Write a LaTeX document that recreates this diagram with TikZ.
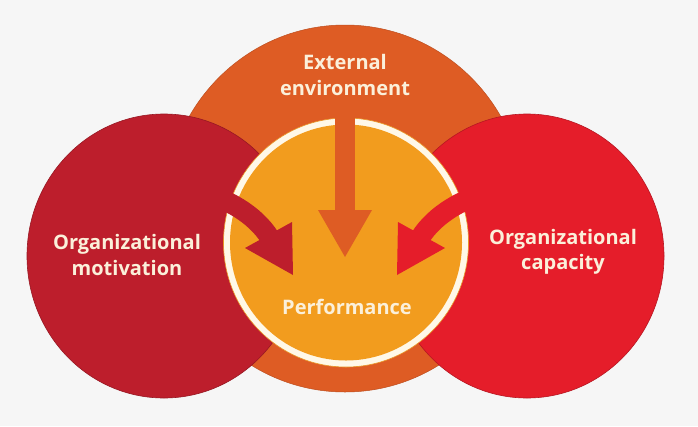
\documentclass[tikz,border=0pt]{standalone}
\usepackage{fontspec}
\setmainfont{Open Sans}
\usetikzlibrary{shapes.geometric}
\definecolor{bgc}{HTML}{F6F6F6}
\definecolor{extc}{HTML}{DE5C24}
\definecolor{motc}{HTML}{BD1E2C}
\definecolor{capc}{HTML}{E51D2A}
\definecolor{perfc}{HTML}{F29C1E}
\definecolor{ringc}{HTML}{FFF8E8}
\definecolor{txtc}{HTML}{FBF0DA}
\tikzset{
  blob/.style={ellipse, inner sep=0pt, outer sep=0pt},
  label text/.style={text=txtc, font=\bfseries\fontsize{20}{25.5}\selectfont, align=center},
  shaft/.style={line width=20pt, line cap=butt},
}
\begin{document}
\begin{tikzpicture}[x=1pt,y=-1pt]
\fill[bgc] (0,0) rectangle (698,426);
\useasboundingbox (0,0) rectangle (698,426);
% circles
\node[blob, fill=extc, draw=extc!85!black, line width=0.5pt, minimum width=360pt, minimum height=367pt] (ext) at (345,208.5) {};
\node[blob, fill=motc, draw=motc!80!black, line width=0.6pt, minimum width=274pt, minimum height=284pt] (mot) at (164,256) {};
\node[blob, fill=capc, draw=capc!80!black, line width=0.6pt, minimum width=274pt, minimum height=284pt] (cap) at (527,256) {};
\node[blob, fill=ringc, draw=perfc!80!brown, line width=0.6pt, minimum width=245pt, minimum height=249pt] (ring) at (346,242.5) {};
\node[blob, fill=perfc, minimum width=232pt, minimum height=236pt] (perf) at (346,242.5) {};
% vertical arrow
\coordinate (vtop) at (345,95);
\coordinate (vend) at (345,212);
\draw[shaft, draw=extc] (vtop) -- (vend);
\fill[extc] (318,210) -- (372,210) -- (345,257) -- cycle;
% left arrow
\coordinate (lstart) at (198,191);
\coordinate (lend) at (270,238);
\draw[shaft, draw=motc] (lstart) .. controls (226,198) and (255,214) .. (lend);
\fill[motc] (292,222) -- (245,248) -- (293,275) -- cycle;
% right arrow
\coordinate (rstart) at (492,191);
\coordinate (rend) at (420,238);
\draw[shaft, draw=capc] (rstart) .. controls (464,198) and (435,214) .. (rend);
\fill[capc] (398,222) -- (445,248) -- (397,275) -- cycle;
% texts
\node[label text] (tExt) at (345,75) {External\\environment};
\node[label text] (tMot) at (127,255) {Organizational\\motivation};
\node[label text] (tCap) at (563,252) {Organizational\\capacity};
\node[label text] (tPerf) at (347,307) {Performance};
\end{tikzpicture}
\end{document}
